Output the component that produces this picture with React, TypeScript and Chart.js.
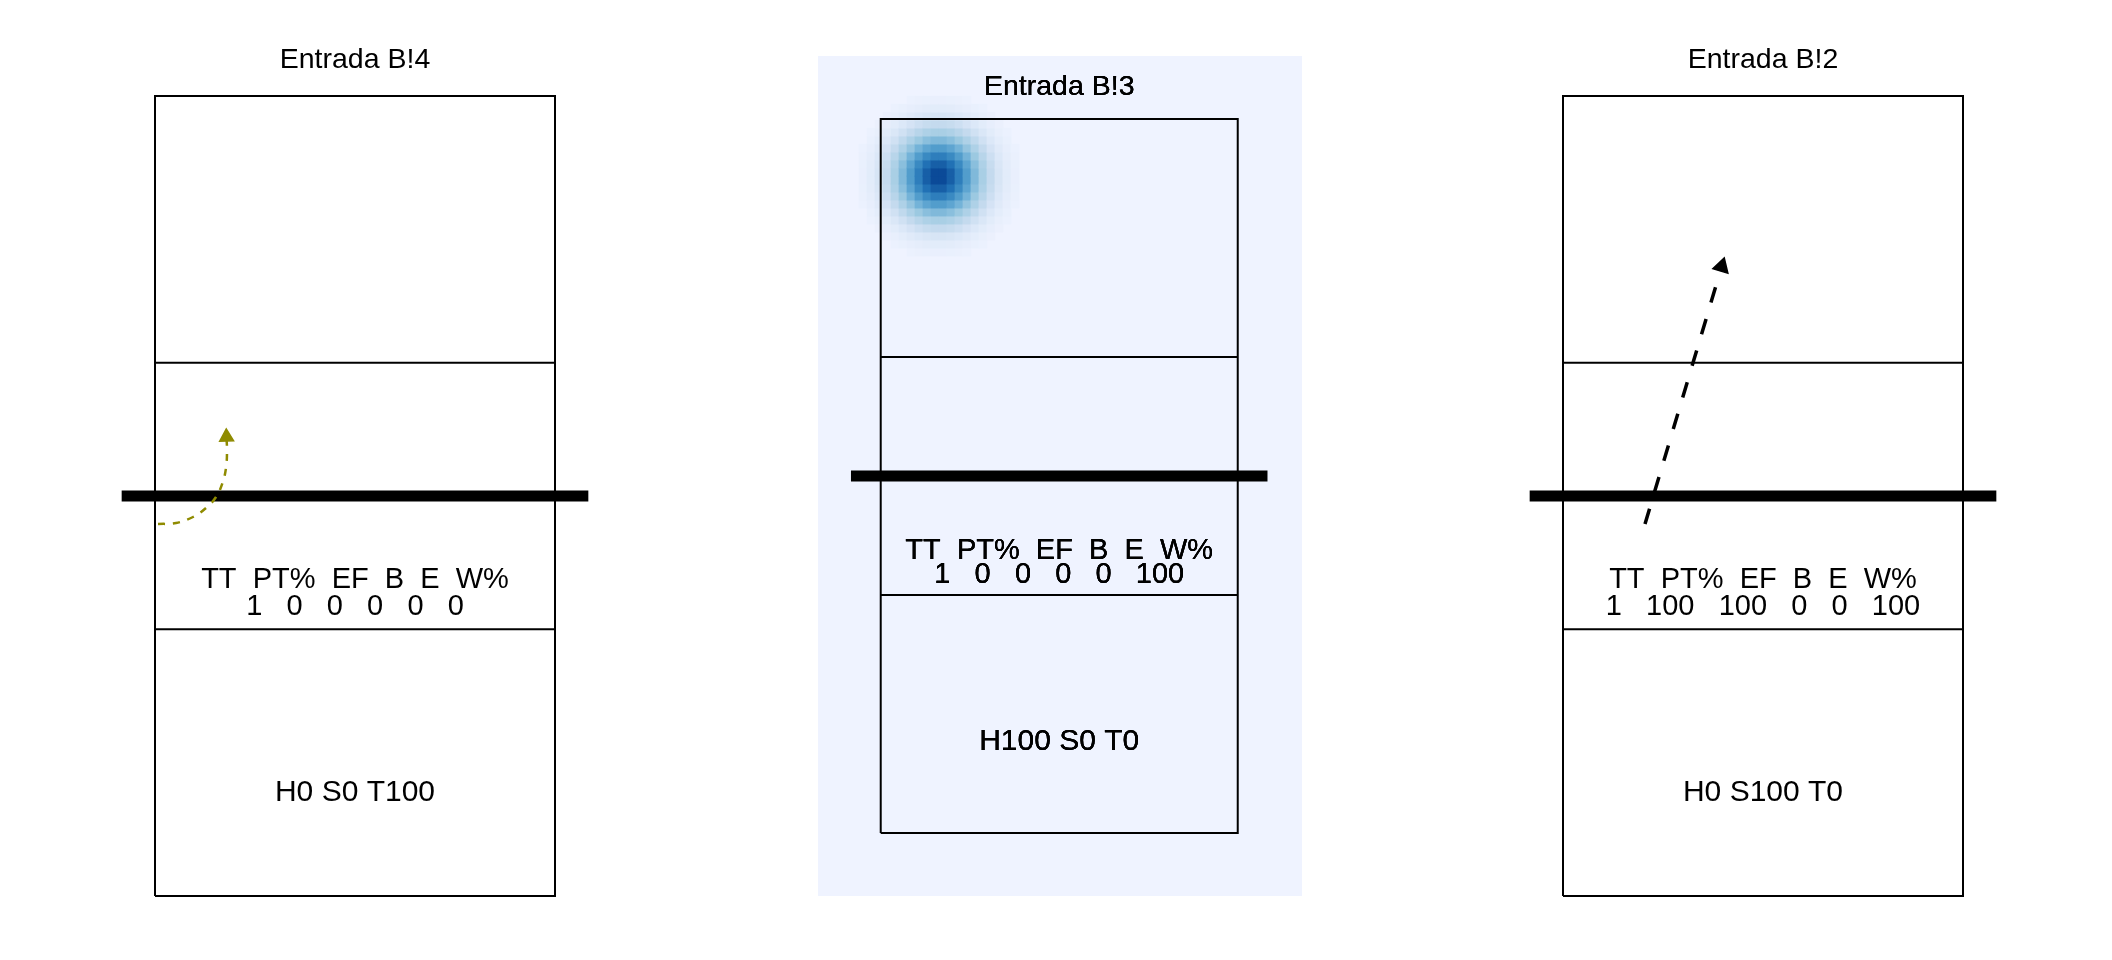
import { useEffect, useRef } from "react";
import { Chart, registerables } from "chart.js";
Chart.register(...registerables);

// ---- data ----
const panelTitles = ["Entrada B!4", "Entrada B!3", "Entrada B!2"];
const statHeader = ["TT", "PT%", "EF", "B", "E", "W%"];
const statValuesB4 = [1, 0, 0, 0, 0, 0];
const statValuesB3 = [1, 0, 0, 0, 0, 100];
const statValuesB2 = [1, 100, 100, 0, 0, 100];
const zoneLabels = ["H0 S0 T100", "H100 S0 T0", "H0 S100 T0"];

// court geometry in court units (1 unit = 3 m)
const courtX = [0.5, 3.5, 3.5, 0.5, 0.5];
const courtY = [0.5, 0.5, 6.5, 6.5, 0.5];
const attackLineY = [2.5, 4.5];
const netY = 3.5;
const netX = [0.25, 3.75];

// B!4 curved attack path
const curveB4X = [0.5225, 0.6575, 0.785, 0.8825, 0.9575, 1.0063, 1.0325, 1.04, 1.0363];
const curveB4Y = [3.29, 3.2975, 3.3425, 3.41, 3.4925, 3.5975, 3.71, 3.83, 3.9425];
// B!2 straight attack path
const pathB2X = [1.115, 1.69];
const pathB2Y = [3.29, 5.22];
// B!3 attack end location (density heat)
const heatB3X = [0.99];
const heatB3Y = [6.02];
const heatBandwidth = 0.235;
const heatCell = 0.0672;
const bluesPalette = ["#eff3ff", "#c6dbef", "#9ecae1", "#6baed6", "#4292c6", "#2171b5", "#084594"];

// text positions (court units)
const textX = 2.0;
const titleY = 6.79;
const headerY = 2.89;
const valuesY = 2.685;
const zoneY = 1.29;

function hexToRgb(h: string) {
  const n = parseInt(h.slice(1), 16);
  return [(n >> 16) & 255, (n >> 8) & 255, n & 255];
}
function blues(t: number) {
  const tt = Math.max(0, Math.min(1, t)) * (bluesPalette.length - 1);
  const i = Math.min(bluesPalette.length - 2, Math.floor(tt));
  const f = tt - i;
  const a = hexToRgb(bluesPalette[i]);
  const b = hexToRgb(bluesPalette[i + 1]);
  const c = a.map((v, k) => Math.round(v + (b[k] - v) * f));
  return `rgb(${c[0]},${c[1]},${c[2]})`;
}

function buildHeat() {
  const pts: { x: number; y: number }[] = [];
  const cols: string[] = [];
  const n = 13;
  const dens = (x: number, y: number) => {
    let d = 0;
    for (let k = 0; k < heatB3X.length; k++) {
      const dx = x - heatB3X[k];
      const dy = y - heatB3Y[k];
      d += Math.exp(-(dx * dx + dy * dy) / (2 * heatBandwidth * heatBandwidth));
    }
    return d;
  };
  const peak = dens(heatB3X[0], heatB3Y[0]);
  for (let i = -n; i < n; i++) {
    for (let j = -n; j < n; j++) {
      const x = heatB3X[0] + (i + 0.5) * heatCell;
      const y = heatB3Y[0] + (j + 0.5) * heatCell;
      const t = dens(x, y) / peak;
      if (t < 0.012) continue;
      pts.push({ x, y });
      cols.push(blues(t));
    }
  }
  return { pts, cols };
}

type PanelCfg = {
  left: number; top: number; width: number; height: number;
  xMin: number; xMax: number; yMin: number; yMax: number;
  bg: string | null;
  title: string; values: number[]; zone: string;
  heat: boolean; path: "curve" | "straight" | null;
  bold: boolean;
};

const panels: PanelCfg[] = [
  { left: 55, top: 0, width: 600, height: 960, xMin: -0.25, xMax: 4.25, yMin: 0.02, yMax: 7.22, bg: null,
    title: panelTitles[0], values: statValuesB4, zone: zoneLabels[0], heat: false, path: "curve", bold: false },
  { left: 818, top: 56, width: 484, height: 840, xMin: -0.027, xMax: 4.04, yMin: -0.03, yMax: 7.029, bg: "#eff3ff",
    title: panelTitles[1], values: statValuesB3, zone: zoneLabels[1], heat: true, path: null, bold: true },
  { left: 1463, top: 0, width: 600, height: 960, xMin: -0.25, xMax: 4.25, yMin: 0.02, yMax: 7.22, bg: null,
    title: panelTitles[2], values: statValuesB2, zone: zoneLabels[2], heat: false, path: "straight", bold: false },
];

const FONT = '"Liberation Sans", Arial, sans-serif';

function Panel({ cfg }: { cfg: PanelCfg }) {
  const ref = useRef<HTMLCanvasElement>(null);
  useEffect(() => {
    const datasets: any[] = [];
    const zip = (xs: number[], ys: number[]) => xs.map((x, i) => ({ x, y: ys[i] }));
    const lineBase = { showLine: true, pointRadius: 0, pointHoverRadius: 0, fill: false, tension: 0, clip: false };

    if (cfg.heat) {
      const h = buildHeat();
      datasets.push({
        data: h.pts,
        order: 10,
        pointStyle: "rect",
        pointBackgroundColor: h.cols,
        pointBorderWidth: 0,
        pointRadius: (ctx: any) => {
          const xs = ctx.chart.scales.x;
          const px = Math.abs(xs.getPixelForValue(heatCell) - xs.getPixelForValue(0));
          return (px + 0.8) / Math.SQRT2;
        },
        clip: false,
      });
    }
    datasets.push({ ...lineBase, order: 5, data: zip(courtX, courtY), borderColor: "#000", borderWidth: 2, borderJoinStyle: "miter" });
    attackLineY.forEach((y) => {
      datasets.push({ ...lineBase, order: 5, data: [{ x: courtX[0], y }, { x: courtX[1], y }], borderColor: "#000", borderWidth: 2 });
    });
    datasets.push({ ...lineBase, order: 4, data: netX.map((x) => ({ x, y: netY })), borderColor: "#000", borderWidth: 11, borderCapStyle: "butt" });

    if (cfg.path) {
      const xs = cfg.path === "curve" ? curveB4X : pathB2X;
      const ys = cfg.path === "curve" ? curveB4Y : pathB2Y;
      const color = cfg.path === "curve" ? "#8f8b00" : "#000000";
      const n = xs.length;
      const rot = (Math.atan2(xs[n - 1] - xs[n - 2], ys[n - 1] - ys[n - 2]) * 180) / Math.PI;
      datasets.push({
        ...lineBase, order: 2, data: zip(xs, ys), borderColor: color,
        borderWidth: cfg.path === "curve" ? 2.5 : 3.5,
        borderDash: cfg.path === "curve" ? [7, 8] : [16, 17],
        tension: cfg.path === "curve" ? 0.4 : 0,
        borderCapStyle: "butt",
      });
      datasets.push({
        order: 1, data: [{ x: xs[n - 1], y: ys[n - 1] }], pointStyle: "triangle",
        pointRadius: cfg.path === "curve" ? 8 : 9, pointRotation: rot,
        pointBackgroundColor: color, pointBorderColor: color, pointBorderWidth: 1.5, clip: false,
      });
    }

    const textPlugin = {
      id: "courtText",
      afterDatasetsDraw(chart: any) {
        const ctx = chart.ctx as CanvasRenderingContext2D;
        const sx = chart.scales.x;
        const sy = chart.scales.y;
        const x = sx.getPixelForValue(textX);
        const put = (txt: string, yv: number, size: number) => {
          ctx.font = `${size}px ${FONT}`;
          const yp = sy.getPixelForValue(yv) + 0.358 * size;
          const reps = cfg.bold ? 3 : 1;
          for (let r = 0; r < reps; r++) ctx.fillText(txt, x, yp);
        };
        ctx.save();
        ctx.fillStyle = "#000";
        ctx.textAlign = "center";
        ctx.textBaseline = "alphabetic";
        put(cfg.title, titleY, 28.5);
        put(statHeader.join("  "), headerY, 29);
        put(cfg.values.join("   "), valuesY, 29);
        put(cfg.zone, zoneY, 30);
        ctx.restore();
      },
    };

    const canvas = ref.current!;
    canvas.width = cfg.width;
    canvas.height = cfg.height;
    const chart = new Chart(canvas, {
      type: "scatter",
      data: { datasets },
      options: {
        animation: false,
        responsive: false,
        maintainAspectRatio: false,
        devicePixelRatio: 1,
        events: [],
        layout: { padding: 0, autoPadding: false },
        scales: {
          x: { type: "linear", min: cfg.xMin, max: cfg.xMax, display: false },
          y: { type: "linear", min: cfg.yMin, max: cfg.yMax, display: false },
        },
        plugins: { legend: { display: false }, tooltip: { enabled: false }, title: { display: false } },
      },
      plugins: [textPlugin],
    } as any);
    return () => chart.destroy();
  }, [cfg]);

  return (
    <canvas
      ref={ref}
      width={cfg.width}
      height={cfg.height}
      style={{ position: "absolute", left: cfg.left, top: cfg.top, width: cfg.width, height: cfg.height, display: "block", background: cfg.bg ?? "transparent" }}
    />
  );
}

export default function App() {
  return (
    <div style={{ position: "fixed", left: 0, top: 0, width: 2112, height: 960, background: "#fff", overflow: "hidden" }}>
      {panels.map((p, i) => (
        <Panel key={i} cfg={p} />
      ))}
    </div>
  );
}
